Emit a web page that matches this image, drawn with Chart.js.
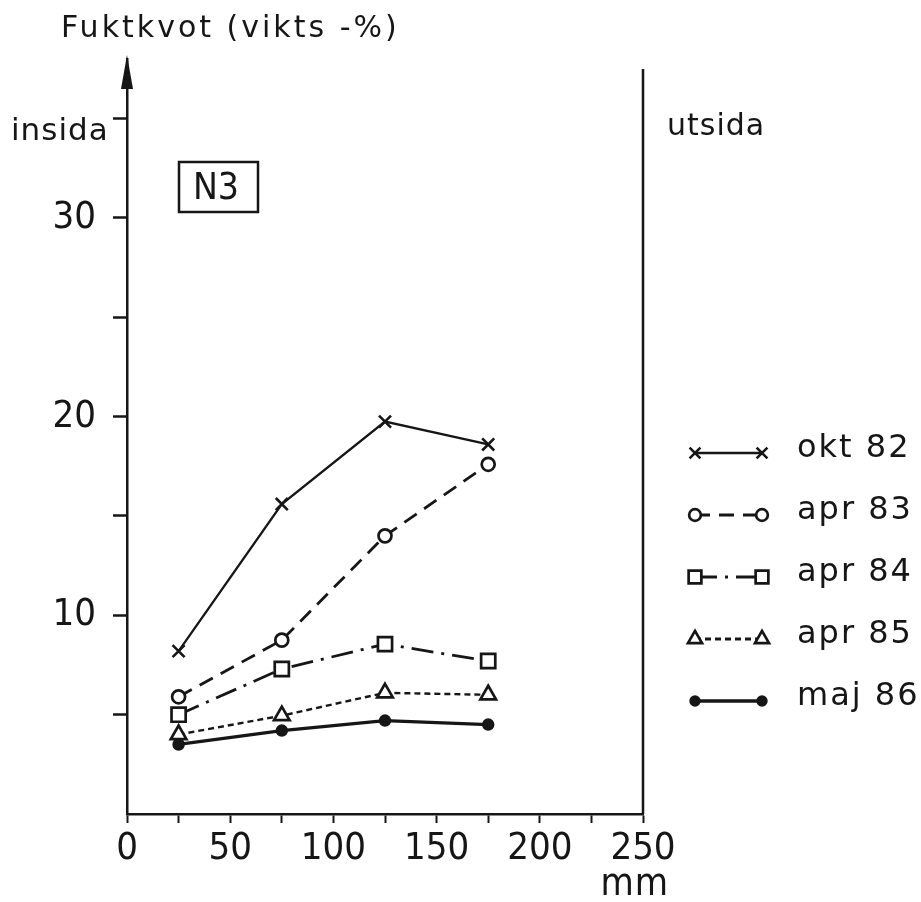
<!DOCTYPE html>
<html>
<head>
<meta charset="utf-8">
<script src="https://cdn.jsdelivr.net/npm/chart.js@4/dist/chart.umd.min.js"></script>
<style>
  html, body { margin: 0; padding: 0; background: #ffffff; }
  #wrap { width: 921px; height: 902px; }
</style>
</head>
<body>
<div id="wrap"><canvas id="c" width="921" height="902"></canvas></div>
<script>
// ---- data ----
const xPositions = [25, 75, 125, 175];          // mm
const okt82 = [8.2, 15.6, 19.75, 18.6];
const apr83 = [5.9, 8.75, 14.0, 17.6];
const apr84 = [5.0, 7.3, 8.55, 7.7];
const apr85 = [4.0, 4.95, 6.1, 6.0];
const maj86 = [3.5, 4.2, 4.7, 4.5];
const seriesLabels = ['okt 82', 'apr 83', 'apr 84', 'apr 85', 'maj 86'];
const xTickLabels = [0, 50, 100, 150, 200, 250];
const yTickLabels = [10, 20, 30];
const yAxisTitle = 'Fuktkvot (vikts -%)';
const xAxisUnit = 'mm';
const leftLabel = 'insida';
const rightLabel = 'utsida';
const panelLabel = 'N3';

const INK = '#161616';
const NARROW = '"Liberation Sans Narrow", "DejaVu Sans Condensed", "Liberation Sans", sans-serif';
const SANS = '"DejaVu Sans", "Liberation Sans", sans-serif';

function pts(vals) { return vals.map((v, i) => ({ x: xPositions[i], y: v })); }

const datasets = [
  { label: seriesLabels[0], data: pts(okt82), borderColor: INK, borderWidth: 2.3, borderDash: [],
    pointStyle: 'crossRot', pointRadius: 8.5, pointBorderWidth: 2.6, pointBackgroundColor: '#fff', pointBorderColor: INK },
  { label: seriesLabels[1], data: pts(apr83), borderColor: INK, borderWidth: 2.8, borderDash: [15, 9],
    pointStyle: 'circle', pointRadius: 6.5, pointBorderWidth: 2.7, pointBackgroundColor: '#fff', pointBorderColor: INK },
  { label: seriesLabels[2], data: pts(apr84), borderColor: INK, borderWidth: 2.8, borderDash: [22, 8, 3, 8],
    pointStyle: 'rect', pointRadius: 10, pointBorderWidth: 2.7, pointBackgroundColor: '#fff', pointBorderColor: INK },
  { label: seriesLabels[3], data: pts(apr85), borderColor: INK, borderWidth: 2.4, borderDash: [6, 4],
    pointStyle: 'triangle', pointRadius: 9, pointBorderWidth: 2.7, pointBackgroundColor: '#fff', pointBorderColor: INK },
  { label: seriesLabels[4], data: pts(maj86), borderColor: INK, borderWidth: 3.2, borderDash: [],
    pointStyle: 'circle', pointRadius: 5.5, pointBorderWidth: 1.5, pointBackgroundColor: INK, pointBorderColor: INK }
];
datasets.forEach(d => { d.tension = 0; d.fill = false; d.pointHoverRadius = d.pointRadius; });

function drawMarker(ctx, ds, x, y, scale) {
  const opts = { pointStyle: ds.pointStyle, radius: ds.pointRadius * scale, borderWidth: ds.pointBorderWidth, rotation: 0 };
  ctx.save();
  ctx.setLineDash([]);
  ctx.lineWidth = ds.pointBorderWidth;
  ctx.strokeStyle = ds.pointBorderColor;
  ctx.fillStyle = ds.pointBackgroundColor;
  Chart.helpers.drawPoint(ctx, opts, x, y);
  ctx.restore();
}

const decorations = {
  id: 'decorations',
  afterDraw(chart) {
    const ctx = chart.ctx;
    const xs = chart.scales.x, ys = chart.scales.y;
    const x0 = xs.getPixelForValue(0), xEnd = xs.getPixelForValue(250);
    const yBottom = ys.getPixelForValue(0), yTop = ys.top;
    ctx.save();
    ctx.fillStyle = INK; ctx.strokeStyle = INK;

    // arrow on y axis
    ctx.beginPath();
    ctx.moveTo(x0, yTop - 4);
    ctx.lineTo(x0 - 6, yTop + 30);
    ctx.lineTo(x0 + 6, yTop + 30);
    ctx.closePath();
    ctx.fill();

    // right border line (utsida)
    ctx.lineWidth = 2.5;
    ctx.beginPath();
    ctx.moveTo(xEnd, ys.getPixelForValue(37.5));
    ctx.lineTo(xEnd, yBottom);
    ctx.stroke();

    // axis title
    ctx.textBaseline = 'alphabetic';
    ctx.textAlign = 'left';
    ctx.font = '30px ' + SANS;
    ctx.letterSpacing = '3px';
    ctx.fillText(yAxisTitle, 61, 37);

    ctx.font = '31px ' + SANS;
    ctx.letterSpacing = '1px';
    ctx.fillText(leftLabel, 11, 140);
    ctx.font = '30px ' + SANS;
    ctx.fillText(rightLabel, 667, 135);

    // unit label
    ctx.letterSpacing = '1px';
    ctx.font = '38px ' + NARROW;
    ctx.textAlign = 'right';
    ctx.fillText(xAxisUnit, 669, 895);

    // panel box
    ctx.letterSpacing = '0px';
    ctx.lineWidth = 2.5;
    ctx.strokeRect(179, 162, 79, 50);
    ctx.textAlign = 'center';
    ctx.textBaseline = 'middle';
    ctx.font = '37px ' + NARROW;
    ctx.fillText(panelLabel, 216, 189);

    // legend
    const lx1 = 695, lx2 = 762, tx = 797;
    chart.data.datasets.forEach((ds, i) => {
      const y = 453 + i * 62;
      ctx.save();
      ctx.strokeStyle = ds.borderColor;
      ctx.lineWidth = ds.borderWidth + 0.4;
      ctx.setLineDash(ds.borderDash || []);
      ctx.beginPath();
      ctx.moveTo(lx1, y);
      ctx.lineTo(lx2, y);
      ctx.stroke();
      ctx.restore();
      drawMarker(ctx, ds, lx1, y, 0.9);
      drawMarker(ctx, ds, lx2, y, 0.9);
      ctx.fillStyle = INK;
      ctx.textAlign = 'left';
      ctx.textBaseline = 'alphabetic';
      ctx.font = '32px ' + SANS;
      ctx.letterSpacing = '2px';
      ctx.fillText(ds.label, tx, y + 4);
    });
    ctx.letterSpacing = '0px';
    ctx.restore();
  }
};

new Chart(document.getElementById('c'), {
  type: 'line',
  data: { datasets },
  options: {
    responsive: false,
    devicePixelRatio: 1,
    animation: false,
    events: [],
    layout: { padding: { top: 59, right: 278, left: 0, bottom: 0 } },
    plugins: { legend: { display: false }, tooltip: { enabled: false }, title: { display: false } },
    scales: {
      x: {
        type: 'linear', min: 0, max: 250,
        afterFit(scale) { scale.height = 88; },
        afterBuildTicks(scale) { scale.ticks = scale.ticks.filter(t => t.value % 25 === 0 && t.value > 0); scale.ticks.unshift({ value: 0 }); },
        ticks: {
          stepSize: 25, autoSkip: false, maxRotation: 0, color: INK, padding: 3,
          font: { family: NARROW, size: 38 },
          callback: v => (xTickLabels.includes(v) ? String(v) : '')
        },
        grid: { drawOnChartArea: false, drawTicks: true, tickLength: 9, tickWidth: 2, tickColor: INK,
                color: ctx => (ctx.tick && ctx.tick.value === 0 ? 'rgba(0,0,0,0)' : INK) },
        border: { display: true, color: INK, width: 2.5 }
      },
      y: {
        type: 'linear', min: 0, max: 38,
        afterFit(scale) { scale.width = 127; },
        afterBuildTicks(scale) { scale.ticks = scale.ticks.filter(t => t.value % 5 === 0 && t.value > 0 && t.value <= 35); },
        ticks: {
          stepSize: 5, autoSkip: false, color: INK, padding: 17,
          font: { family: NARROW, size: 38 },
          callback: v => (yTickLabels.includes(v) ? String(v) : '')
        },
        grid: { drawOnChartArea: false, drawTicks: true, tickLength: 14, tickWidth: 2.5, tickColor: INK },
        border: { display: true, color: INK, width: 2.5 }
      }
    }
  },
  plugins: [decorations]
});
</script>
</body>
</html>
